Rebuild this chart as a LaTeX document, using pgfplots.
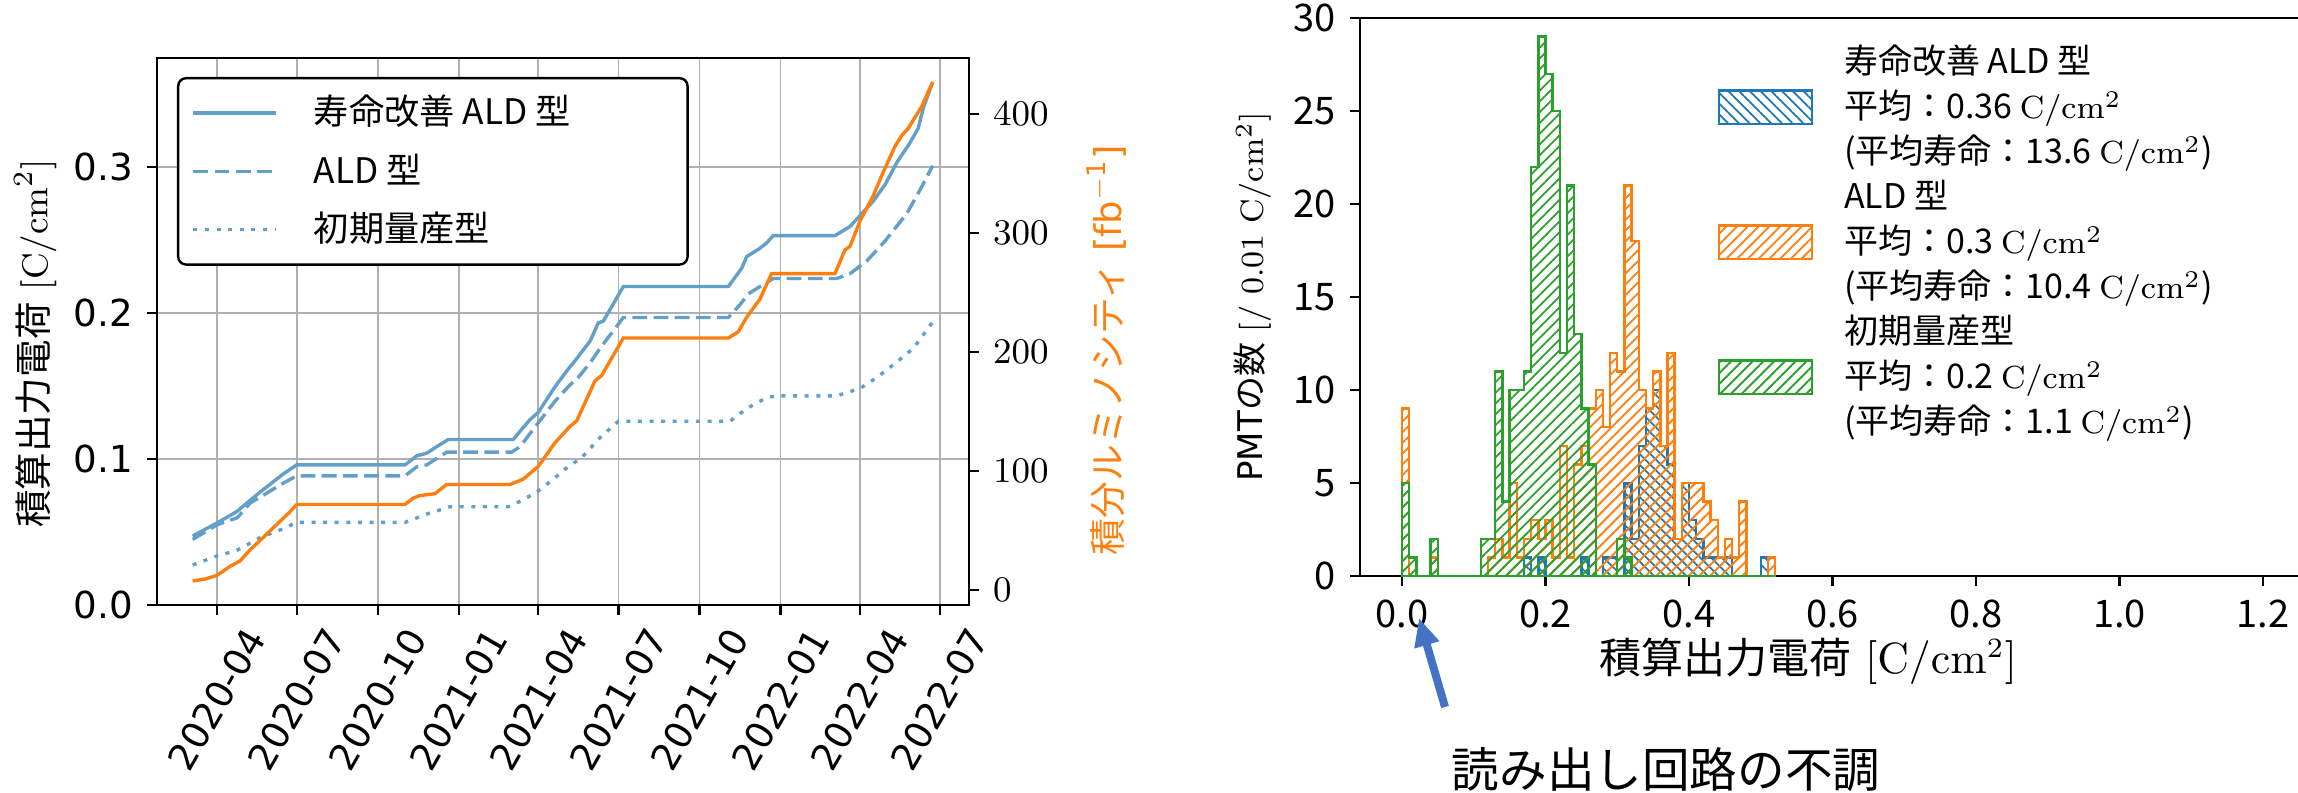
\documentclass[border=0pt]{standalone}
\usepackage{pgfplots}
\pgfplotsset{compat=1.18}
\usepackage{pgfplotstable}
\usepackage[no-math]{fontspec}
\usetikzlibrary{patterns.meta,arrows.meta}
\setmainfont{DejaVu Sans}
\newfontfamily\jp{Noto Sans CJK JP}
\definecolor{lblue}{RGB}{98,160,202}
\definecolor{tblue}{HTML}{1F77B4}
\definecolor{torange}{HTML}{FF7F0E}
\definecolor{tgreen}{HTML}{2CA02C}
\definecolor{gridgray}{HTML}{B0B0B0}
\definecolor{arrowblue}{HTML}{4472C4}

% x = days since 2020-01-01
\pgfplotstableread{
d v
63.6 0.0473
91 0.0561
113.6 0.064
125 0.0698
140 0.0773
166.5 0.0898
181.7 0.096
304.6 0.096
318 0.1022
329.3 0.104
340.6 0.1085
353.8 0.1134
427.6 0.1134
435.2 0.119
446.5 0.127
456 0.132
475 0.1496
492 0.1633
495.7 0.1658
514.7 0.1808
524.1 0.1933
529.8 0.1945
552.5 0.2182
671.7 0.2182
686.9 0.2307
692.5 0.2387
707.6 0.2444
715.2 0.2481
722.7 0.2531
792.8 0.2531
809.8 0.2593
821.2 0.2668
836.3 0.2768
849.6 0.288
862.8 0.303
877.9 0.3167
887.3 0.3267
893 0.3404
903.7 0.3584
}\solid

\pgfplotstableread{
d v
63.6 0.0449
91 0.0549
114.3 0.0598
128.7 0.0698
166.5 0.0835
181.7 0.0885
304.6 0.0885
318 0.0947
329.3 0.096
351.9 0.1047
425.8 0.1047
435.2 0.1085
454.2 0.1235
475 0.1397
492 0.1509
499.5 0.1546
514.7 0.1658
526 0.1758
552.5 0.197
671.7 0.197
685 0.2058
694.4 0.2132
707.6 0.2182
722.7 0.2237
794.7 0.2237
809.8 0.227
828.8 0.2357
849.6 0.2494
874.2 0.2681
889.2 0.2843
903.7 0.301
}\dashed

\pgfplotstableread{
d v
63.6 0.0274
91 0.0336
113.6 0.0374
140 0.0461
166.5 0.0523
181.7 0.0566
304.6 0.0566
329.3 0.0623
355.7 0.0673
421.9 0.0673
435.2 0.071
454.2 0.0773
475 0.0872
492 0.096
503.3 0.0997
526 0.1147
546.8 0.1259
673.6 0.1259
692.5 0.1346
715.2 0.1421
726.5 0.1433
794.7 0.1433
821.2 0.1484
840.1 0.1558
859 0.1646
881.7 0.1758
904.4 0.1945
}\dotted

\pgfplotstableread{
d v
63.6 7.6
77.6 9.2
91 12.2
106 19.8
117.3 24.4
128.7 33.6
143.8 44.2
159 55
174.1 65.7
181.7 71.8
304.6 71.8
314 77.2
321.7 79.3
338.7 80.9
351.9 88.6
423.8 88.6
438.9 93.1
456 103.8
475 123.7
492 137.4
499.5 142
510.9 160.3
520.3 175.6
527.9 180.1
552.5 211.6
671.7 211.6
683 216.8
692.5 229
707.6 244.2
720.8 265.7
792.8 265.7
804.1 285.5
809.8 288.5
821.2 309.9
836.3 331.2
845.8 348
860.9 372.5
868.5 381.6
876 387.7
891.2 406
903.7 426.5
}\lumi

\pgfplotstableread{
x b o g
0.00 0 9 5
0.01 0 0 1
0.02 0 0 0
0.03 0 0 0
0.04 0 1 2
0.05 0 0 0
0.06 0 0 0
0.07 0 0 0
0.08 0 0 0
0.09 0 0 0
0.10 0 0 0
0.11 0 0 2
0.12 0 1 2
0.13 0 2 11
0.14 0 1 4
0.15 0 5 10
0.16 0 1 10
0.17 1 2 11
0.18 0 3 22
0.19 1 2 29
0.20 0 3 27
0.21 0 1 25
0.22 0 7 12
0.23 0 1 21
0.24 0 6 13
0.25 1 7 9
0.26 0 9 6
0.27 0 10 0
0.28 1 8 0
0.29 1 12 0
0.30 0 11 2
0.31 5 21 1
0.32 2 18 0
0.33 7 10 0
0.34 9 9 0
0.35 10 11 0
0.36 7 7 0
0.37 6 12 0
0.38 2 2 0
0.39 5 5 0
0.40 3 5 0
0.41 2 5 0
0.42 1 4 0
0.43 1 3 0
0.44 1 1 0
0.45 1 2 0
0.46 0 1 0
0.47 0 4 0
0.48 0 0 0
0.49 0 0 0
0.50 1 0 0
0.51 0 1 0
0.52 0 0 0
}\hist

\begin{document}
\begin{tikzpicture}
\useasboundingbox (0,0) rectangle (574.5pt,198pt);

% ---------------- left: cumulative charge vs date
\begin{axis}[
  at={(39.25pt,46.75pt)}, anchor=south west,
  scale only axis, width=203pt, height=136.75pt,
  xmin=23.1, xmax=944.9, ymin=0, ymax=0.3748,
  axis line style={line width=0.55pt},
  tick align=outside, xtick pos=left, ytick pos=left,
  major tick length=2.5pt,
  every tick/.style={black, line width=0.55pt},
  xtick={91,182,274,366,456,547,639,731,821,912},
  xticklabels={2020-04,2020-07,2020-10,2021-01,2021-04,2021-07,2021-10,2022-01,2022-04,2022-07},
  ytick={0,0.1,0.2,0.3}, yticklabels={0.0,0.1,0.2,0.3},
  grid=major, major grid style={gridgray, line width=0.45pt},
  ticklabel style={font=\fontsize{9.3}{11}\selectfont},
  xticklabel style={yshift=-21pt, rotate=60, anchor=center},
  ylabel={{\jp 積算出力電荷} $[\mathrm{C/cm^2}]$},
  ylabel style={at={(axis description cs:-0.150,0.478)}, anchor=center, font=\fontsize{9.4}{11}\selectfont},
  legend image code/.code={\draw[#1] (0pt,0pt) -- (20.7pt,0pt);},
  legend cell align=left,
  legend style={at={(axis description cs:0.0246,0.9653)}, anchor=north west,
    draw=black, line width=0.6pt, rounded corners=2pt, fill=white,
    inner xsep=3.4pt, inner ysep=1.4pt, row sep=0pt, column sep=9pt,
    nodes={inner sep=0pt, minimum height=14.6pt},
    font=\jp\fontsize{8.8}{10}\selectfont},
]
\addplot[lblue, line width=0.85pt] table[x=d,y=v]{\solid};
\addlegendentry{\makebox[90pt][l]{寿命改善 ALD 型}}
\addplot[lblue, line width=0.85pt, dash pattern=on 3.7pt off 1.6pt] table[x=d,y=v]{\dashed};
\addlegendentry{ALD 型}
\addplot[lblue, line width=0.85pt, dash pattern=on 1pt off 1.9pt] table[x=d,y=v]{\dotted};
\addlegendentry{初期量産型}
\end{axis}

% ---------------- left twin: integrated luminosity
\begin{axis}[
  at={(39.25pt,46.75pt)}, anchor=south west,
  scale only axis, width=203pt, height=136.75pt,
  xmin=23.1, xmax=944.9, ymin=-12.6, ymax=446.7,
  axis x line=none, axis y line*=right,
  axis line style={line width=0.55pt},
  tick align=outside, major tick length=2.5pt,
  every tick/.style={black, line width=0.55pt},
  ytick={0,100,200,300,400},
  ticklabel style={font=\fontsize{9.3}{11}\selectfont},
  ylabel={{\jp 積分ルミノシティ} [fb\textsuperscript{$-$1}]},
  ylabel style={at={(axis description cs:1.1695,0.466)}, anchor=center, text=torange, font=\fontsize{9.2}{11}\selectfont},
]
\addplot[torange, line width=0.85pt] table[x=d,y=v]{\lumi};
\end{axis}

% ---------------- right: histogram
\begin{axis}[
  at={(340pt,54pt)}, anchor=south west,
  scale only axis, width=234.5pt, height=139.5pt,
  xmin=-0.0585, xmax=1.2488, ymin=0, ymax=30,
  separate axis lines, axis x line*=box, axis y line*=left,
  axis line style={line width=0.55pt},
  tick align=outside, xtick pos=left, ytick pos=left,
  major tick length=2.5pt,
  every tick/.style={black, line width=0.55pt},
  xtick={0,0.2,0.4,0.6,0.8,1.0,1.2},
  xticklabels={0.0,0.2,0.4,0.6,0.8,1.0,1.2},
  ytick={0,5,10,15,20,25,30},
  /pgf/number format/assume math mode=true,
  ticklabel style={font=\jp\fontsize{9.5}{11}\selectfont},
  xlabel={{\jp 積算出力電荷} $[\mathrm{C/cm^2}]$},
  xlabel style={at={(axis description cs:0.478,-0.1534)}, anchor=center, font=\fontsize{10.5}{12}\selectfont},
  ylabel={PMT{\jp の数} $[/\ 0.01\ \mathrm{C/cm^2}]$},
  ylabel style={at={(axis description cs:-0.1146,0.5)}, anchor=center, font=\fontsize{8.5}{10}\selectfont},
  legend image code/.code={\draw[#1] (0pt,-4.15pt) rectangle (23.25pt,4.15pt);},
  legend cell align=left,
  legend style={at={(axis description cs:0.3806,0.9624)}, anchor=north west,
    draw=none, fill=none, inner sep=0pt, row sep=0pt, column sep=7.75pt,
    nodes={inner sep=0pt, minimum height=11.25pt},
    font=\jp\fontsize{8.5}{11.25}\selectfont},
]
\addlegendimage{empty legend}
\addlegendentry{寿命改善 ALD 型}
\addplot[const plot, draw=tblue, line width=0.6pt,
  pattern={Lines[angle=-45,distance=1.9pt,line width=0.45pt]}, pattern color=tblue]
  table[x=x,y=b]{\hist} \closedcycle;
\addlegendentry{平均：0.36 $\mathrm{C/cm^2}$}
\addlegendimage{empty legend}
\addlegendentry{(平均寿命：13.6 $\mathrm{C/cm^2}$)}
\addlegendimage{empty legend}
\addlegendentry{ALD 型}
\addplot[const plot, draw=torange, line width=0.6pt,
  pattern={Lines[angle=45,distance=1.9pt,line width=0.45pt]}, pattern color=torange]
  table[x=x,y=o]{\hist} \closedcycle;
\addlegendentry{平均：0.3 $\mathrm{C/cm^2}$}
\addlegendimage{empty legend}
\addlegendentry{(平均寿命：10.4 $\mathrm{C/cm^2}$)}
\addlegendimage{empty legend}
\addlegendentry{初期量産型}
\addplot[const plot, draw=tgreen, line width=0.6pt,
  pattern={Lines[angle=45,distance=1.9pt,line width=0.45pt]}, pattern color=tgreen]
  table[x=x,y=g]{\hist} \closedcycle;
\addlegendentry{平均：0.2 $\mathrm{C/cm^2}$}
\addlegendimage{empty legend}
\addlegendentry{(平均寿命：1.1 $\mathrm{C/cm^2}$)}
\end{axis}

% annotation
\draw[arrowblue, line width=2pt, -{Triangle[length=7pt,width=6pt]}] (361.25pt,21.25pt) -- (354.75pt,43.5pt);
\node[font=\jp\fontsize{11.9}{14}\selectfont, anchor=center] at (416.5pt,5.6pt) {読み出し回路の不調};
\end{tikzpicture}
\end{document}
